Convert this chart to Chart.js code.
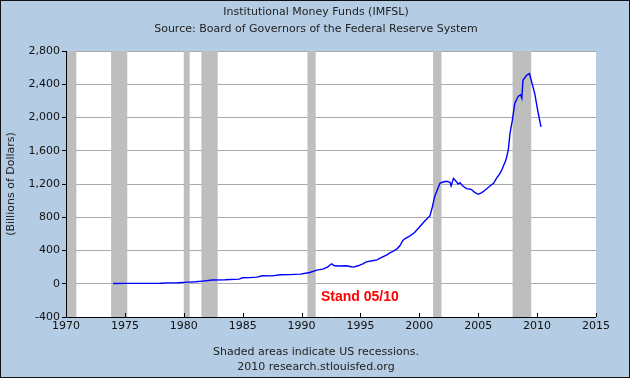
<!DOCTYPE html>
<html>
<head>
<meta charset="utf-8">
<script src="https://cdn.jsdelivr.net/npm/chart.js@4"></script>
<style>
html, body { margin: 0; padding: 0; background: #b4cce4; }
</style>
</head>
<body>
<canvas id="chart" width="630" height="378"></canvas>
<script>
const titleLines = ['Institutional Money Funds (IMFSL)', 'Source: Board of Governors of the Federal Reserve System']
const footerLines = ['Shaded areas indicate US recessions.', '2010 research.stlouisfed.org']
const yAxisLabel = '(Billions of Dollars)'
const noteText = 'Stand 05/10'

// decimal years, billions of dollars
const years = [
    1974.0, 1975.0, 1976.0, 1977.0, 1978.0, 1978.7, 1979.5, 1980.4, 1981.0, 1981.6,
    1982.4, 1983.5, 1984.7, 1985.0, 1985.6, 1986.2, 1986.7, 1987.5, 1988.2, 1989.0,
    1989.9, 1990.7, 1991.3, 1991.8, 1992.2, 1992.55, 1992.8, 1993.3, 1993.8, 1994.1,
    1994.4, 1994.8, 1995.2, 1995.5, 1996.0, 1996.4, 1996.8, 1997.2, 1997.5, 1997.8,
    1998.1, 1998.35, 1998.6, 1998.8, 1999.2, 1999.6, 2000.05, 2000.5, 2000.9, 2001.1,
    2001.3, 2001.5, 2001.75, 2002.0, 2002.3, 2002.6, 2002.7, 2002.9, 2003.1, 2003.3,
    2003.45, 2003.7, 2004.0, 2004.4, 2004.7, 2005.0, 2005.3, 2005.6, 2006.0, 2006.3,
    2006.55, 2006.85, 2007.0, 2007.35, 2007.55, 2007.7, 2007.9, 2008.1, 2008.4, 2008.6,
    2008.7, 2008.8, 2009.1, 2009.35, 2009.5, 2009.8, 2010.1, 2010.33
]
const values = [
    3, 4, 5, 5, 6, 10, 12, 20, 24, 32,
    45, 48, 56, 72, 74, 80, 96, 95, 108, 110,
    116, 136, 164, 176, 200, 240, 216, 214, 216, 208,
    200, 216, 240, 264, 276, 288, 316, 344, 372, 392,
    420, 456, 520, 544, 576, 616, 688, 760, 816, 920,
    1048, 1120, 1208, 1224, 1232, 1220, 1176, 1268, 1236, 1200,
    1216, 1176, 1144, 1136, 1100, 1076, 1096, 1128, 1176, 1208,
    1268, 1328, 1368, 1488, 1608, 1808, 1968, 2168, 2256, 2272,
    2232, 2448, 2508, 2528, 2448, 2288, 2048, 1888
]

const recessionStarts = [1969.92, 1973.83, 1980.0, 1981.5, 1990.5, 2001.17, 2007.92]
const recessionEnds = [1970.88, 1975.2, 1980.5, 1982.88, 1991.2, 2001.88, 2009.5]

const xTicks = [1970, 1975, 1980, 1985, 1990, 1995, 2000, 2005, 2010, 2015]
const yTicks = [-400, 0, 400, 800, 1200, 1600, 2000, 2400, 2800]

const bgColor = '#b4cce4'
const textFont = '11px "DejaVu Sans"'

const backdrop = {
    id: 'backdrop',
    beforeDraw(chart) {
        const { ctx, chartArea: a } = chart
        ctx.save()
        ctx.fillStyle = bgColor
        ctx.fillRect(0, 0, chart.width, chart.height)
        ctx.fillStyle = '#fff'
        ctx.fillRect(a.left, a.top, a.right - a.left, a.bottom - a.top)
        ctx.restore()
    }
}

const recessions = {
    id: 'recessions',
    beforeDatasetsDraw(chart) {
        const { ctx, chartArea: a } = chart
        const x = chart.scales.x
        ctx.save()
        ctx.fillStyle = '#bebebe'
        recessionStarts.forEach((start, i) => {
            const x0 = Math.max(x.getPixelForValue(start), a.left)
            const x1 = Math.min(x.getPixelForValue(recessionEnds[i]), a.right)
            ctx.fillRect(x0, a.top, x1 - x0, a.bottom - a.top)
        })
        ctx.restore()
    }
}

const decorations = {
    id: 'decorations',
    afterDraw(chart) {
        const { ctx, chartArea: a } = chart
        const x = chart.scales.x
        ctx.save()
        // axis lines and inward x tick marks
        ctx.strokeStyle = '#000'
        ctx.lineWidth = 1
        ctx.beginPath()
        ctx.moveTo(a.left + 0.5, a.top)
        ctx.lineTo(a.left + 0.5, a.bottom + 0.5)
        ctx.lineTo(a.right, a.bottom + 0.5)
        xTicks.forEach(t => {
            const px = Math.round(x.getPixelForValue(t)) + 0.5
            ctx.moveTo(px, a.bottom)
            ctx.lineTo(px, a.bottom - 4)
        })
        ctx.stroke()

        ctx.fillStyle = '#222'
        ctx.font = textFont
        ctx.textAlign = 'center'
        ctx.textBaseline = 'middle'
        ctx.fillText(titleLines[0], 316, 12)
        ctx.fillText(titleLines[1], 316, 29)
        ctx.fillText(footerLines[0], 316, 352)
        ctx.fillText(footerLines[1], 316, 367)

        ctx.fillStyle = '#ff0000'
        ctx.font = 'bold 14px "Liberation Sans"'
        ctx.textAlign = 'left'
        ctx.fillText(noteText, 321, 297)

        ctx.strokeStyle = '#111'
        ctx.strokeRect(0.5, 0.5, chart.width - 1, chart.height - 1)
        ctx.restore()
    }
}

const ctx = document.getElementById('chart').getContext('2d')
window.myChart = new Chart(ctx, {
    type: 'line',
    data: {
        datasets: [
            {
                label: 'IMFSL',
                data: years.map((yr, i) => ({ x: yr, y: values[i] })),
                borderColor: '#0000ff',
                borderWidth: 1.4,
                pointRadius: 0,
                tension: 0,
                fill: false
            }
        ]
    },
    options: {
        responsive: false,
        animation: false,
        devicePixelRatio: 1,
        layout: { padding: { left: 0, right: 34, top: 51, bottom: 0 } },
        plugins: {
            legend: { display: false },
            tooltip: { enabled: false },
            title: { display: false }
        },
        scales: {
            x: {
                type: 'linear',
                min: 1970,
                max: 2015,
                afterBuildTicks: scale => { scale.ticks = xTicks.map(v => ({ value: v })) },
                afterFit: scale => { scale.height = 61 },
                grid: { display: false, drawTicks: false },
                border: { display: false },
                ticks: {
                    color: '#111',
                    font: { family: 'DejaVu Sans', size: 11 },
                    padding: 3,
                    maxRotation: 0,
                    autoSkip: false,
                    callback: v => String(v)
                }
            },
            y: {
                min: -400,
                max: 2800,
                afterBuildTicks: scale => { scale.ticks = yTicks.map(v => ({ value: v })) },
                afterFit: scale => { scale.width = 66 },
                grid: { color: '#aaaaaa', tickColor: '#000', tickLength: 4, drawTicks: true },
                border: { display: false },
                ticks: {
                    color: '#111',
                    font: { family: 'DejaVu Sans', size: 11 },
                    padding: 2,
                    callback: v => v.toLocaleString('en-US')
                },
                title: {
                    display: true,
                    text: yAxisLabel,
                    color: '#222',
                    font: { family: 'DejaVu Sans', size: 11 },
                    padding: { top: 5, bottom: 0 }
                }
            }
        }
    },
    plugins: [backdrop, recessions, decorations]
})
</script>
</body>
</html>
